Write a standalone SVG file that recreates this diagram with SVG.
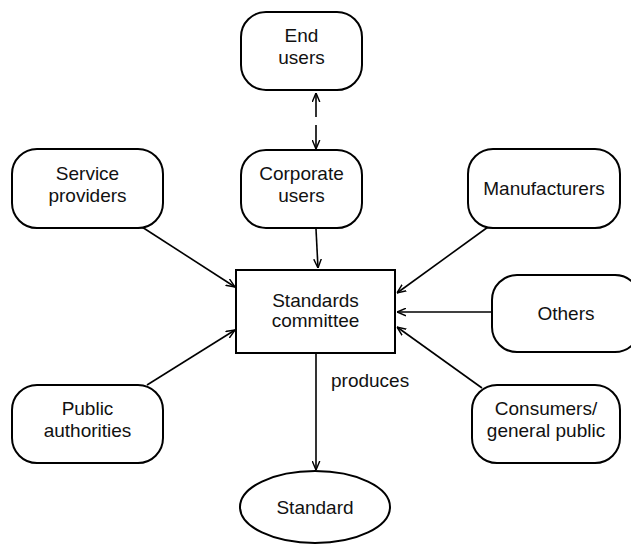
<svg xmlns="http://www.w3.org/2000/svg" width="631" height="544" viewBox="0 0 631 544">
<defs>
<style>
.node{fill:#fff;stroke:#000;stroke-width:2}
.lbl{font-family:"Liberation Sans",Arial,sans-serif;font-size:19px;fill:#111;text-anchor:middle}
.edge{stroke:#000;stroke-width:1.6;fill:none}
</style>
<marker id="ah" viewBox="0 0 10 10" refX="10" refY="5" markerWidth="9" markerHeight="9" markerUnits="userSpaceOnUse" orient="auto-start-reverse">
<path d="M0,0.8 L10,5 L0,9.2" fill="none" stroke="#000" stroke-width="1.6"/>
</marker>
</defs>
<rect width="631" height="544" fill="#fff"/>
<g id="connectors">
<line class="edge" x1="316" y1="93" x2="316" y2="149" stroke-dasharray="24 8" marker-start="url(#ah)" marker-end="url(#ah)"/>
<line class="edge" x1="316" y1="229" x2="318" y2="268" marker-end="url(#ah)"/>
<line class="edge" x1="142" y1="227" x2="235" y2="287" marker-end="url(#ah)"/>
<line class="edge" x1="147" y1="385" x2="235" y2="330" marker-end="url(#ah)"/>
<line class="edge" x1="488" y1="227" x2="397" y2="293" marker-end="url(#ah)"/>
<line class="edge" x1="492" y1="312" x2="397" y2="312" marker-end="url(#ah)"/>
<line class="edge" x1="482" y1="388" x2="397" y2="327" marker-end="url(#ah)"/>
<line class="edge" x1="316" y1="354" x2="316" y2="470" marker-end="url(#ah)"/>
<text class="lbl" x="331" y="387" style="text-anchor:start">produces</text>
</g>
<g id="end-users">
<rect class="node" x="241" y="12" width="121" height="78" rx="25"/>
<text class="lbl" x="301.5" y="42">End</text>
<text class="lbl" x="301.5" y="63.5">users</text>
</g>
<g id="corporate-users">
<rect class="node" x="241" y="150" width="121" height="78" rx="25"/>
<text class="lbl" x="301.5" y="180">Corporate</text>
<text class="lbl" x="301.5" y="201.5">users</text>
</g>
<g id="service-providers">
<rect class="node" x="12" y="149" width="151" height="79" rx="25"/>
<text class="lbl" x="87.5" y="180">Service</text>
<text class="lbl" x="87.5" y="201.5">providers</text>
</g>
<g id="manufacturers">
<rect class="node" x="468" y="149" width="152" height="79" rx="25"/>
<text class="lbl" x="544" y="195">Manufacturers</text>
</g>
<g id="standards-committee">
<rect class="node" x="236" y="270" width="159" height="83"/>
<text class="lbl" x="315.5" y="306.5">Standards</text>
<text class="lbl" x="315.5" y="327">committee</text>
</g>
<g id="others">
<rect class="node" x="492" y="275" width="148" height="77" rx="25"/>
<text class="lbl" x="566" y="320">Others</text>
</g>
<g id="public-authorities">
<rect class="node" x="12" y="385" width="151" height="78" rx="25"/>
<text class="lbl" x="87.5" y="415">Public</text>
<text class="lbl" x="87.5" y="436.5">authorities</text>
</g>
<g id="consumers">
<rect class="node" x="472" y="385" width="148" height="78" rx="25"/>
<text class="lbl" x="546" y="415">Consumers/</text>
<text class="lbl" x="546" y="436.5">general public</text>
</g>
<g id="standard">
<ellipse class="node" cx="315" cy="507" rx="75" ry="36"/>
<text class="lbl" x="315" y="514">Standard</text>
</g>
</svg>
